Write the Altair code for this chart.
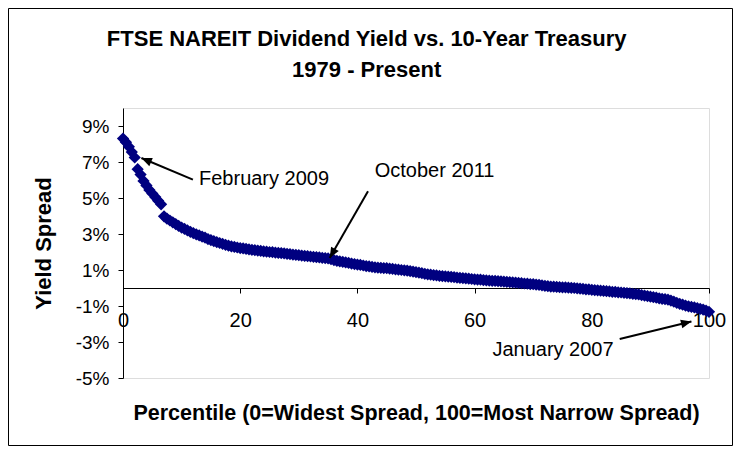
import altair as alt
import pandas as pd

# Percentile (0 = widest spread, 100 = most narrow spread), half-step readings
percentile = [i / 2 for i in range(201)]
# Yield spread (%)
spread = [
    8.30, 8.10, 7.85, 7.55, 7.25, 6.60, 6.30, 5.95, 5.70, 5.45,
    5.25, 5.05, 4.85, 4.65, 3.98, 3.85, 3.75, 3.65, 3.55, 3.45,
    3.36, 3.28, 3.20, 3.12, 3.05, 2.98, 2.92, 2.86, 2.80, 2.72,
    2.66, 2.60, 2.55, 2.50, 2.45, 2.40, 2.35, 2.31, 2.28, 2.25,
    2.22, 2.20, 2.17, 2.14, 2.12, 2.10, 2.08, 2.06, 2.04, 2.02,
    2.00, 1.99, 1.97, 1.95, 1.94, 1.92, 1.90, 1.88, 1.86, 1.84,
    1.82, 1.80, 1.78, 1.77, 1.75, 1.73, 1.72, 1.70, 1.68, 1.66,
    1.64, 1.60, 1.55, 1.51, 1.48, 1.45, 1.42, 1.39, 1.36, 1.33,
    1.30, 1.28, 1.25, 1.22, 1.20, 1.17, 1.15, 1.13, 1.12, 1.11,
    1.10, 1.08, 1.06, 1.04, 1.02, 1.00, 0.98, 0.96, 0.94, 0.91,
    0.88, 0.85, 0.82, 0.79, 0.76, 0.74, 0.72, 0.70, 0.68, 0.66,
    0.65, 0.63, 0.62, 0.60, 0.58, 0.56, 0.55, 0.53, 0.52, 0.50,
    0.48, 0.47, 0.46, 0.44, 0.43, 0.41, 0.40, 0.39, 0.38, 0.37,
    0.36, 0.34, 0.33, 0.31, 0.30, 0.28, 0.27, 0.25, 0.24, 0.22,
    0.21, 0.19, 0.18, 0.15, 0.12, 0.10, 0.08, 0.07, 0.06, 0.05,
    0.04, 0.03, 0.02, 0.01, 0.00, -0.02, -0.03, -0.05, -0.07, -0.08,
    -0.10, -0.12, -0.13, -0.15, -0.16, -0.18, -0.19, -0.21, -0.22, -0.24,
    -0.25, -0.27, -0.28, -0.30, -0.32, -0.34, -0.36, -0.39, -0.42, -0.45,
    -0.48, -0.51, -0.54, -0.57, -0.60, -0.62, -0.65, -0.70, -0.76, -0.82,
    -0.88, -0.93, -0.98, -1.02, -1.05, -1.08, -1.12, -1.16, -1.20, -1.26,
    -1.32,
]

# Annotations
ann_text = ["February 2009", "October 2011", "January 2007"]
ann_text_x = [12.97, 42.95, 63.04]
ann_text_y = [6.06, 6.48, -3.43]
arrow_tail_x = [11.93, 41.81, 84.76]
arrow_tail_y = [6.02, 5.37, -2.83]
arrow_tip_x = [3.14, 35.27, 97.0]
arrow_tip_y = [7.22, 1.67, -1.86]
arrow_angle = [293, 210, 76]

title_lines = ["FTSE NAREIT Dividend Yield vs. 10-Year Treasury", "1979 - Present"]

y_ticks = [-5, -3, -1, 1, 3, 5, 7, 9]
x_ticks = [0, 20, 40, 60, 80, 100]

FONT = "Liberation Sans"

df = pd.DataFrame({"p": percentile, "s": spread})
ann = pd.DataFrame({
    "text": ann_text, "tx": ann_text_x, "ty": ann_text_y,
    "x1": arrow_tail_x, "y1": arrow_tail_y,
    "x2": arrow_tip_x, "y2": arrow_tip_y, "angle": arrow_angle,
})

xscale = alt.Scale(domain=[0, 100], nice=False, zero=False)
yscale = alt.Scale(domain=[-5, 10], nice=False, zero=False)

xaxis = alt.Axis(
    values=x_ticks, offset=-90, grid=False, domainColor="black",
    tickColor="black", tickSize=5, labelFontSize=20, labelFont=FONT,
    labelColor="black", labelPadding=17, labelFlush=False,
    labelOverlap=False,
    title="Percentile (0=Widest Spread, 100=Most Narrow Spread)",
    titleFont=FONT, titleFontSize=21.5, titleFontWeight="bold",
    titleColor="black", titleY=125, titleBaseline="middle",
)
yaxis = alt.Axis(
    values=y_ticks, grid=False, domainColor="black", tickColor="black",
    tickSize=5, labelFontSize=19, labelFont=FONT, labelColor="black",
    labelPadding=9, labelExpr="datum.value + '%'", labelFlush=False,
    labelOverlap=False,
    title="Yield Spread", titleFont=FONT, titleFontSize=22,
    titleFontWeight="bold", titleColor="black", titleX=-80, titleY=135,
    titleAngle=270, titleBaseline="middle", titleAlign="center",
)

points = alt.Chart(df).mark_point(
    shape="diamond", filled=True, color="#000080", size=150, opacity=1
).encode(
    x=alt.X("p:Q", scale=xscale, axis=xaxis),
    y=alt.Y("s:Q", scale=yscale, axis=yaxis),
)

arrows = alt.Chart(ann).mark_rule(color="black", strokeWidth=2).encode(
    x=alt.X("x1:Q", scale=xscale, axis=xaxis),
    y=alt.Y("y1:Q", scale=yscale, axis=yaxis),
    x2="x2:Q", y2="y2:Q"
)

heads = alt.Chart(ann).mark_point(
    shape="M0,0L-0.42,1L0.42,1Z", filled=True, color="black", size=440,
    opacity=1
).encode(
    x=alt.X("x2:Q", scale=xscale, axis=xaxis),
    y=alt.Y("y2:Q", scale=yscale, axis=yaxis),
    angle=alt.Angle("angle:Q", scale=None)
)

labels = alt.Chart(ann).mark_text(
    align="left", baseline="middle", font=FONT, fontSize=20, color="black"
).encode(
    x=alt.X("tx:Q", scale=xscale, axis=xaxis),
    y=alt.Y("ty:Q", scale=yscale, axis=yaxis),
    text="text:N"
)

title1 = alt.Chart(pd.DataFrame({"t": title_lines[:1]})).mark_text(
    align="center", baseline="middle", font=FONT, fontSize=22,
    fontWeight="bold", color="black"
).encode(x=alt.value(243.7), y=alt.value(-69), text="t:N")

title2 = alt.Chart(pd.DataFrame({"t": title_lines[1:]})).mark_text(
    align="center", baseline="middle", font=FONT, fontSize=22,
    fontWeight="bold", color="black"
).encode(x=alt.value(243.7), y=alt.value(-38.3), text="t:N")

frame = alt.Chart(pd.DataFrame({"t": [0]})).mark_rect(
    fill=None, stroke="black", strokeWidth=1
).encode(
    x=alt.value(-114.5), x2=alt.value(609.5),
    y=alt.value(-99.5), y2=alt.value(337.5)
)

chart = alt.layer(frame, title1, title2, points, arrows, heads, labels).properties(
    width=586, height=270,
    padding={"left": 115, "top": 100, "right": 24, "bottom": 68},
    autosize=alt.AutoSizeParams(type="none"),
).configure_view(
    stroke="#808080", strokeWidth=1.5
).configure(background="white")

chart.save("out.html", embed_options={"renderer": "svg", "actions": False})
